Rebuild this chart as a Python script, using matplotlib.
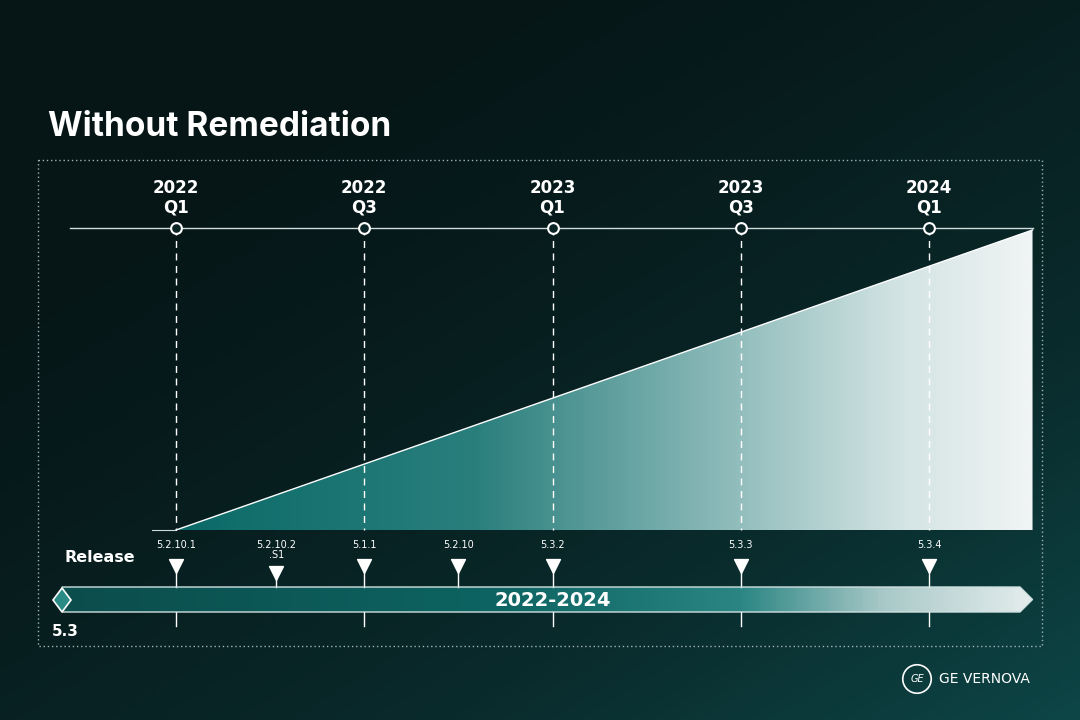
import numpy as np
import matplotlib.pyplot as plt
from matplotlib.patches import Polygon
from matplotlib.colors import LinearSegmentedColormap

# months counted from 2022 Q1
quarter_labels = ["2022\nQ1", "2022\nQ3", "2023\nQ1", "2023\nQ3", "2024\nQ1"]
quarter_months = [0, 6, 12, 18, 24]
release_labels = ["5.2.10.1", "5.2.10.2\n.S1", "5.1.1", "5.2.10", "5.3.2", "5.3.3", "5.3.4"]
release_months = [0, 3.2, 6, 9, 12, 18, 24]
growth_end = 27.3

px = 31.375  # pixels per month
x0 = -176 / px
x1 = (1080 - 176) / px

fig = plt.figure(figsize=(10.8, 7.2), dpi=100)
ax = fig.add_axes([0, 0, 1, 1])
ax.set_xlim(x0, x1)
ax.set_ylim(720, 0)
ax.axis("off")

# background gradient
yy, xx = np.mgrid[0:1:200j, 0:1:300j]
t = np.clip(0.55 * xx + 0.6 * yy - 0.2, 0, 1) ** 1.5
bg = LinearSegmentedColormap.from_list("bg", ["#061617", "#0a2b2c", "#0e4a4b"])
ax.imshow(bg(t), extent=[x0, x1, 720, 0], aspect="auto", zorder=0)

def mx(p):
    return x0 + p / px

# dotted frame
ax.plot([mx(38), mx(1042), mx(1042), mx(38), mx(38)], [160, 160, 646, 646, 160],
        color="#9fb3b3", lw=1, ls=(0, (1, 2)), zorder=1)

ax.text(mx(48), 127, "Without Remediation", color="white", fontsize=24,
        fontweight="bold", va="center", ha="left", family="Inter")

# growth triangle with gradient
tri_cmap = LinearSegmentedColormap.from_list(
    "tri", [(0, "#0a6a67"), (0.35, "#2a7f7d"), (0.65, "#8fbcbb"), (0.85, "#d4e4e4"), (1, "#f0f4f4")])
grad = np.tile(np.linspace(0, 1, 300), (10, 1))
im = ax.imshow(grad, cmap=tri_cmap, extent=[0, growth_end, 530, 230], aspect="auto", zorder=2)
tri = Polygon([[0, 530], [growth_end, 230], [growth_end, 530]], closed=True,
              facecolor="none", edgecolor="none")
ax.add_patch(tri)
im.set_clip_path(tri)
ax.plot([0, growth_end], [530, 230], color="white", lw=1, zorder=3)
ax.plot([mx(152), 0], [530, 530], color="#cfdada", lw=0.8, zorder=3)

# timeline
ax.plot([mx(70), growth_end], [228, 228], color="#d0dcdc", lw=1, zorder=3)
for m, lab in zip(quarter_months, quarter_labels):
    ax.plot([m, m], [228, 530], color="white", lw=1, ls=(0, (5, 4)), zorder=3)
    ax.plot([m, m], [612, 626], color="white", lw=1, zorder=3)
    ax.scatter([m], [228], s=60, facecolor="#0b2526", edgecolor="white", lw=1.5, zorder=4)
    ax.text(m, 198, lab, color="white", fontsize=12, fontweight="bold",
            ha="center", va="center", linespacing=1.1, zorder=4)

# release markers
ax.text(mx(65), 558, "Release", color="white", fontsize=11.5, fontweight="bold",
        ha="left", va="center")
for m, lab in zip(release_months, release_labels):
    two_line = "\n" in lab
    ax.text(m, 540, lab, color="white", fontsize=7, ha="center", va="top",
            linespacing=1.0, zorder=4)
    ym = 573 if two_line else 566
    ax.plot([m, m], [ym + 5, 587], color="white", lw=1, zorder=3)
    ax.scatter([m], [ym], marker="v", s=100, color="white", zorder=4)

# 2022-2024 bar
bar_cmap = LinearSegmentedColormap.from_list(
    "bar", [(0, "#0b4d4c"), (0.45, "#0d6462"), (0.7, "#2a8583"), (0.85, "#a9c9c8"), (1, "#e3ecec")])
bgrad = np.tile(np.linspace(0, 1, 200), (10, 1))
bim = ax.imshow(bgrad, cmap=bar_cmap, extent=[mx(62), growth_end, 612, 587],
                aspect="auto", zorder=2)
arrow = Polygon([[mx(62), 587], [mx(1020), 587], [growth_end, 599.5],
                 [mx(1020), 612], [mx(62), 612]], closed=True,
                facecolor="none", edgecolor="#cfe0e0", lw=1, zorder=3)
ax.add_patch(arrow)
bim.set_clip_path(arrow)
ax.text(12, 601, "2022-2024", color="white", fontsize=14, fontweight="bold",
        ha="center", va="center", zorder=4)
diamond = Polygon([[mx(53), 600], [mx(62), 588], [mx(71), 600], [mx(62), 612]],
                  closed=True, facecolor="#2a8a86", edgecolor="white", lw=1.2, zorder=5)
ax.add_patch(diamond)
ax.text(mx(52), 631, "5.3", color="white", fontsize=11, fontweight="bold",
        ha="left", va="center")

# logo
ax.scatter([mx(917)], [679], s=420, facecolor="none", edgecolor="white", lw=1.2)
ax.text(mx(917), 679, "GE", color="white", fontsize=7, ha="center", va="center",
        style="italic")
ax.text(mx(939), 679, "GE VERNOVA", color="white", fontsize=10, ha="left", va="center")

fig.savefig("out.png", dpi=100)
